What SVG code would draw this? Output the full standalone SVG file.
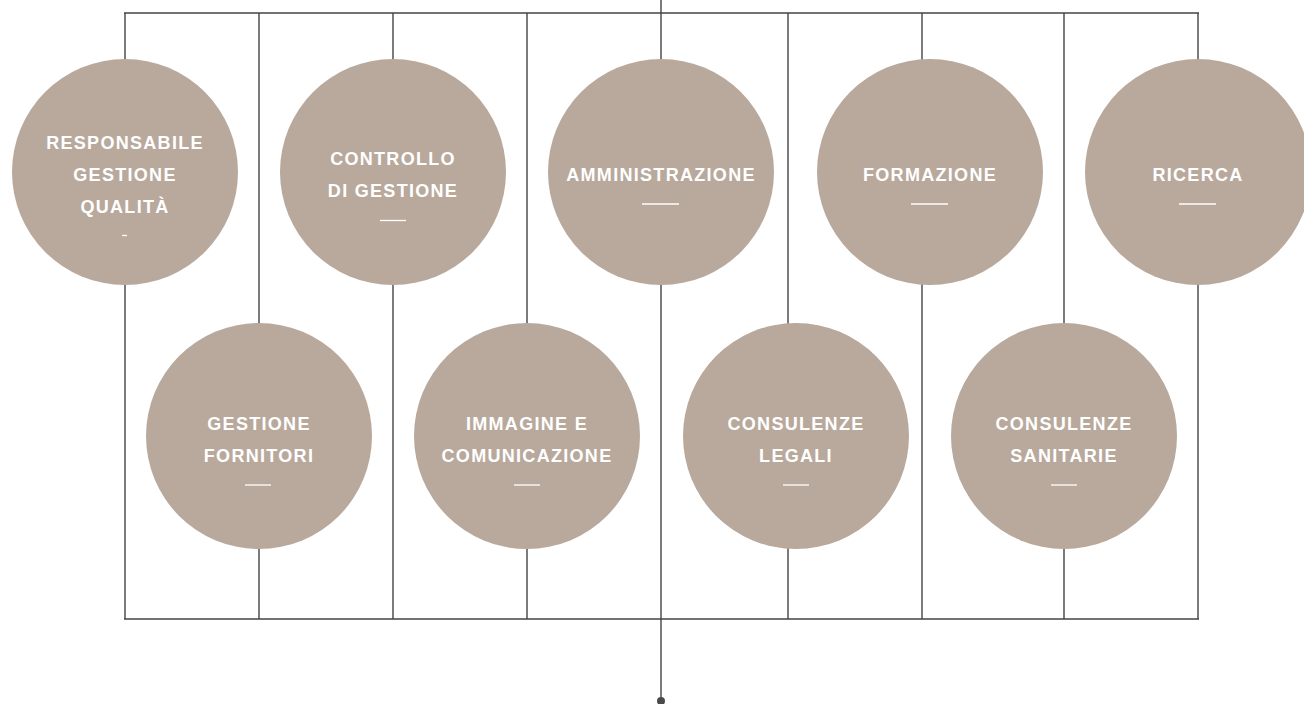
<svg xmlns="http://www.w3.org/2000/svg" width="1304" height="704" viewBox="0 0 1304 704">
<style>
.ln{stroke:#444444;stroke-width:1.4;fill:none}
.c{fill:#b8a99c}
.t{font-family:"Liberation Sans",Arial,sans-serif;font-weight:bold;font-size:18px;letter-spacing:1.3px;fill:#ffffff;text-anchor:middle}
.d{stroke:#ffffff;stroke-width:1.3}
</style>
<rect width="1304" height="704" fill="#ffffff"/>
<g id="connectors">
<line class="ln" x1="124" y1="13" x2="1199" y2="13"/>
<line class="ln" x1="124" y1="619" x2="1199" y2="619"/>
<line class="ln" x1="661" y1="0" x2="661" y2="700"/>
<line class="ln" x1="125" y1="13" x2="125" y2="619"/>
<line class="ln" x1="259" y1="13" x2="259" y2="619"/>
<line class="ln" x1="393" y1="13" x2="393" y2="619"/>
<line class="ln" x1="527" y1="13" x2="527" y2="619"/>
<line class="ln" x1="788" y1="13" x2="788" y2="619"/>
<line class="ln" x1="922" y1="13" x2="922" y2="619"/>
<line class="ln" x1="1064" y1="13" x2="1064" y2="619"/>
<line class="ln" x1="1198" y1="13" x2="1198" y2="619"/>
<circle cx="661" cy="701" r="4" fill="#4a4a4a"/>
</g>
<g id="n-responsabile">
<circle class="c" cx="125" cy="172" r="113"/>
<text class="t" x="125" y="149">RESPONSABILE</text>
<text class="t" x="125" y="181">GESTIONE</text>
<text class="t" x="125" y="213">QUALITÀ</text>
<line class="d" x1="122" y1="235.5" x2="127" y2="235.5"/>
</g>
<g id="n-controllo">
<circle class="c" cx="393" cy="172" r="113"/>
<text class="t" x="393" y="165">CONTROLLO</text>
<text class="t" x="393" y="197">DI GESTIONE</text>
<line class="d" x1="380" y1="220.5" x2="406" y2="220.5"/>
</g>
<g id="n-amministrazione">
<circle class="c" cx="661" cy="172" r="113"/>
<text class="t" x="661" y="181">AMMINISTRAZIONE</text>
<line class="d" x1="642" y1="204" x2="679" y2="204"/>
</g>
<g id="n-formazione">
<circle class="c" cx="930" cy="172" r="113"/>
<text class="t" x="930" y="181">FORMAZIONE</text>
<line class="d" x1="911" y1="204" x2="948" y2="204"/>
</g>
<g id="n-ricerca">
<circle class="c" cx="1198" cy="172" r="113"/>
<text class="t" x="1198" y="181">RICERCA</text>
<line class="d" x1="1179" y1="204" x2="1216" y2="204"/>
</g>
<g id="n-fornitori">
<circle class="c" cx="259" cy="436" r="113"/>
<text class="t" x="259" y="430">GESTIONE</text>
<text class="t" x="259" y="462">FORNITORI</text>
<line class="d" x1="245" y1="485" x2="271" y2="485"/>
</g>
<g id="n-immagine">
<circle class="c" cx="527" cy="436" r="113"/>
<text class="t" x="527" y="430">IMMAGINE E</text>
<text class="t" x="527" y="462">COMUNICAZIONE</text>
<line class="d" x1="514" y1="485" x2="540" y2="485"/>
</g>
<g id="n-legali">
<circle class="c" cx="796" cy="436" r="113"/>
<text class="t" x="796" y="430">CONSULENZE</text>
<text class="t" x="796" y="462">LEGALI</text>
<line class="d" x1="783" y1="485" x2="809" y2="485"/>
</g>
<g id="n-sanitarie">
<circle class="c" cx="1064" cy="436" r="113"/>
<text class="t" x="1064" y="430">CONSULENZE</text>
<text class="t" x="1064" y="462">SANITARIE</text>
<line class="d" x1="1051" y1="485" x2="1077" y2="485"/>
</g>
</svg>
